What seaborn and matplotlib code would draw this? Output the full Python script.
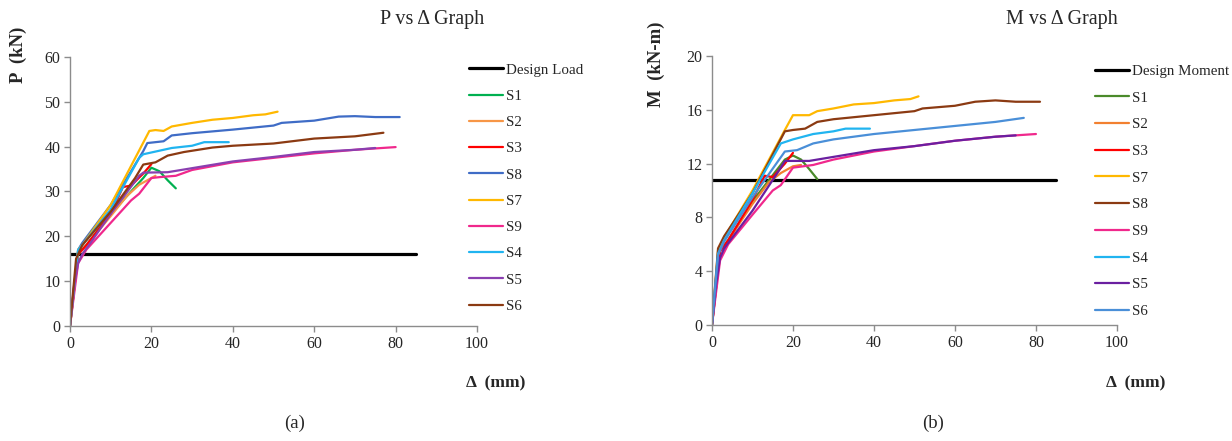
import matplotlib
matplotlib.use("Agg")
import matplotlib.pyplot as plt
import seaborn as sns
import pandas as pd

# ---- data ----
design_x = [0, 85]
design_load = [16, 16]
design_moment = [10.8, 10.8]

# P vs delta, left panel
p_s1_x = [0, 2, 4, 10, 18, 20, 22, 24, 26]
p_s1_y = [0, 16, 18, 25, 33, 35.3, 34.5, 32.5, 30.7]
p_s2_x = [0, 2, 4, 10, 14, 17, 20, 21]
p_s2_y = [0, 16, 18, 24.5, 29, 31.5, 33, 33.5]
p_s3_x = [0, 2, 4, 10, 13, 15, 18, 20]
p_s3_y = [0, 16, 18, 25, 31, 31.3, 34, 36.1]
p_s8_x = [0, 2, 3, 10, 18, 19, 23, 25, 30, 40, 50, 52, 60, 66, 70, 75, 81]
p_s8_y = [0, 17, 18.5, 27, 39, 40.8, 41.2, 42.5, 43, 43.8, 44.7, 45.3, 45.8, 46.7, 46.8, 46.6, 46.6]
p_s7_x = [0, 2, 3, 10, 19.5, 21, 23, 25, 30, 35, 40, 45, 48, 51]
p_s7_y = [0, 17, 18, 27, 43.5, 43.7, 43.5, 44.5, 45.3, 46, 46.4, 47, 47.2, 47.8]
p_s9_x = [0, 2, 4, 10, 15, 17, 20, 22, 26, 30, 40, 50, 60, 70, 80]
p_s9_y = [0, 14, 17, 23, 28, 29.5, 33, 33.2, 33.5, 34.8, 36.5, 37.5, 38.5, 39.3, 39.9]
p_s4_x = [0, 2, 3, 10, 17, 18, 20, 25, 30, 33, 39]
p_s4_y = [0, 17, 18, 26, 37.5, 38.3, 38.7, 39.7, 40.2, 41, 41]
p_s5_x = [0, 1, 2, 3, 5, 10, 17, 18, 24, 30, 40, 50, 60, 70, 75]
p_s5_y = [0, 9, 14, 16, 18.5, 25, 33.5, 34.2, 34.3, 35.2, 36.7, 37.7, 38.8, 39.3, 39.7]
p_s6_x = [0, 1.5, 3, 10, 16, 18, 21, 24, 28, 35, 40, 50, 60, 70, 77]
p_s6_y = [0, 15, 18, 25.5, 33, 36, 36.5, 38, 38.8, 39.8, 40.2, 40.7, 41.8, 42.3, 43.1]

# M vs delta, right panel
m_s1_x = [0, 2, 4, 10, 18, 20, 22, 24, 26]
m_s1_y = [0, 5.5, 6.3, 9.2, 12.3, 12.6, 12.3, 11.6, 10.85]
m_s2_x = [0, 2, 4, 10, 14, 17, 20, 22]
m_s2_y = [0, 5.5, 6.3, 9.0, 10.6, 11.3, 11.8, 11.9]
m_s3_x = [0, 2, 4, 10, 13, 15, 18, 20]
m_s3_y = [0, 5.5, 6.3, 9.3, 11.1, 11.0, 12.0, 12.8]
m_s7_x = [0, 1.5, 3, 10, 18, 20, 22, 24, 26, 30, 35, 40, 45, 49, 51]
m_s7_y = [0, 5.5, 6.5, 10, 14.5, 15.6, 15.6, 15.6, 15.9, 16.1, 16.4, 16.5, 16.7, 16.8, 17.0]
m_s8_x = [0, 1.5, 3, 5, 10, 18, 20, 23, 26, 30, 40, 50, 52, 60, 65, 70, 75, 81]
m_s8_y = [0, 5.7, 6.6, 7.5, 9.8, 14.4, 14.5, 14.6, 15.1, 15.3, 15.6, 15.9, 16.1, 16.3, 16.6, 16.7, 16.6, 16.6]
m_s9_x = [0, 2, 4, 10, 15, 17, 20, 25, 30, 40, 50, 60, 70, 80]
m_s9_y = [0, 4.8, 6, 8.2, 10, 10.4, 11.7, 11.9, 12.3, 12.9, 13.3, 13.7, 14.0, 14.2]
m_s4_x = [0, 1.5, 3, 10, 17, 20, 25, 30, 33, 39]
m_s4_y = [0, 5.3, 6.3, 9.8, 13.5, 13.8, 14.2, 14.4, 14.6, 14.6]
m_s5_x = [0, 1, 2, 3, 5, 10, 17, 18, 24, 30, 40, 50, 60, 70, 75]
m_s5_y = [0, 3, 5, 5.7, 6.5, 8.5, 11.7, 12.2, 12.2, 12.5, 13.0, 13.3, 13.7, 14.0, 14.1]
m_s6_x = [0, 1.5, 3, 10, 18, 21, 25, 30, 35, 40, 50, 60, 70, 77]
m_s6_y = [0, 5.2, 6.2, 9.5, 12.9, 13.0, 13.5, 13.8, 14.0, 14.2, 14.5, 14.8, 15.1, 15.4]

p_series = [
    ("S1", p_s1_x, p_s1_y, "#00b050"),
    ("S2", p_s2_x, p_s2_y, "#f79646"),
    ("S3", p_s3_x, p_s3_y, "#ff0000"),
    ("S8", p_s8_x, p_s8_y, "#3f6cc6"),
    ("S7", p_s7_x, p_s7_y, "#ffb800"),
    ("S9", p_s9_x, p_s9_y, "#f0288c"),
    ("S4", p_s4_x, p_s4_y, "#20b4f0"),
    ("S5", p_s5_x, p_s5_y, "#8a3fb0"),
    ("S6", p_s6_x, p_s6_y, "#8b3a12"),
]
m_series = [
    ("S1", m_s1_x, m_s1_y, "#4a8a2a"),
    ("S2", m_s2_x, m_s2_y, "#f28030"),
    ("S3", m_s3_x, m_s3_y, "#ff0000"),
    ("S7", m_s7_x, m_s7_y, "#ffb800"),
    ("S8", m_s8_x, m_s8_y, "#8b3a12"),
    ("S9", m_s9_x, m_s9_y, "#f0288c"),
    ("S4", m_s4_x, m_s4_y, "#20b4f0"),
    ("S5", m_s5_x, m_s5_y, "#6a1fa0"),
    ("S6", m_s6_x, m_s6_y, "#4a8fd8"),
]

sns.set_style("white")
plt.rcParams["font.family"] = ["Liberation Serif", "DejaVu Serif"]

fig = plt.figure(figsize=(12.32, 4.41), dpi=100)
ax1 = fig.add_axes([0.0568, 0.2608, 0.3304, 0.6100])
ax2 = fig.add_axes([0.5779, 0.2630, 0.3287, 0.6100])


def draw(ax, series, design_y, design_label, ymax, yticks):
    sns.lineplot(x=design_x, y=design_y, color="black", linewidth=2.3,
                 label=design_label, ax=ax)
    for name, xs, ys, col in series:
        df = pd.DataFrame({"d": xs, "v": ys})
        sns.lineplot(data=df, x="d", y="v", color=col, linewidth=1.6,
                     label=name, sort=False, estimator=None, ax=ax)
    ax.set_xlim(0, 100)
    ax.set_ylim(0, ymax)
    ax.set_xticks([0, 20, 40, 60, 80, 100])
    ax.set_yticks(yticks)
    ax.set_xlabel("")
    ax.set_ylabel("")
    for s in ["top", "right"]:
        ax.spines[s].set_visible(False)
    for s in ["left", "bottom"]:
        ax.spines[s].set_color("#8c8c8c")
        ax.spines[s].set_linewidth(1.0)
    ax.tick_params(axis="both", which="both", direction="out", length=4,
                   width=1, color="#8c8c8c", labelsize=11.5, pad=3,
                   left=True, bottom=True)
    ax.get_legend().remove()
    return ax.get_legend_handles_labels()


h1, l1 = draw(ax1, p_series, design_load, "Design Load", 60, range(0, 61, 10))
h2, l2 = draw(ax2, m_series, design_moment, "Design Moment", 20, range(0, 21, 4))

fig.legend(h1, l1, loc="upper left", bbox_to_anchor=(0.3745, 0.874),
           frameon=False, fontsize=10.8, handlelength=2.3, handletextpad=0.2,
           labelspacing=0.85, borderpad=0)
fig.legend(h2, l2, loc="upper left", bbox_to_anchor=(0.8825, 0.871),
           frameon=False, fontsize=10.8, handlelength=2.3, handletextpad=0.2,
           labelspacing=0.88, borderpad=0)

# titles and labels
fig.text(0.351, 0.955, "P vs \u0394 Graph", ha="center", va="center", fontsize=14.5)
fig.text(0.862, 0.955, "M vs \u0394 Graph", ha="center", va="center", fontsize=14.5)
fig.text(0.015, 0.876, "P  (kN)", rotation=90, ha="center", va="center",
         fontsize=13.5, fontweight="bold")
fig.text(0.533, 0.855, "M  (kN-m)", rotation=90, ha="center", va="center",
         fontsize=13.5, fontweight="bold")
fig.text(0.402, 0.131, "\u0394  (mm)", ha="center", va="center",
         fontsize=12.5, fontweight="bold")
fig.text(0.922, 0.131, "\u0394  (mm)", ha="center", va="center",
         fontsize=12.5, fontweight="bold")
fig.text(0.239, 0.041, "(a)", ha="center", va="center", fontsize=13.5)
fig.text(0.757, 0.041, "(b)", ha="center", va="center", fontsize=13.5)

fig.savefig("out.png", dpi=100)
